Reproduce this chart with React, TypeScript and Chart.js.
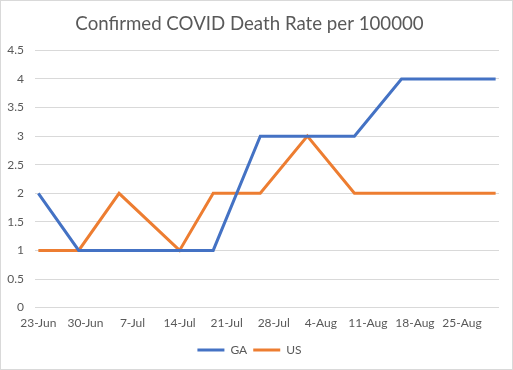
import React, { useEffect, useRef } from "react";
import { Chart, registerables } from "chart.js";

Chart.register(...registerables);

const dataDates = [
  "2020-06-23", "2020-06-29", "2020-07-05", "2020-07-14", "2020-07-19", "2020-07-26",
  "2020-08-02", "2020-08-09", "2020-08-16", "2020-08-23", "2020-08-30",
];
const gaValues = [2, 1, 1, 1, 1, 3, 3, 3, 4, 4, 4];
const usValues = [1, 1, 2, 1, 2, 2, 3, 2, 2, 2, 2];
const tickLabels = ["23-Jun", "30-Jun", "7-Jul", "14-Jul", "21-Jul", "28-Jul", "4-Aug", "11-Aug", "18-Aug", "25-Aug"];
const startDate = "2020-06-23";

const DAY = 86400000;
const dayOffset = (d: string) => Math.round((Date.parse(d) - Date.parse(startDate)) / DAY);

const FONT = "Lato, 'Open Sans', sans-serif";
const TEXT = "#595959";

export default function App() {
  const ref = useRef<HTMLCanvasElement | null>(null);
  useEffect(() => {
    document.body.style.margin = "0";
    const ctx = ref.current!;
    const xs = dataDates.map(dayOffset);
    const tickDays = tickLabels.map((_, i) => i * 7);
    const chart = new Chart(ctx, {
      type: "line",
      data: {
        datasets: [
          {
            label: "GA",
            data: xs.map((x, i) => ({ x, y: gaValues[i] })),
            borderColor: "#4472C4",
            backgroundColor: "#4472C4",
            borderWidth: 3,
            pointRadius: 0,
            tension: 0,
          },
          {
            label: "US",
            data: xs.map((x, i) => ({ x, y: usValues[i] })),
            borderColor: "#ED7D31",
            backgroundColor: "#ED7D31",
            borderWidth: 3,
            pointRadius: 0,
            tension: 0,
          },
        ],
      },
      options: {
        animation: false,
        responsive: false,
        devicePixelRatio: 1,
        layout: { padding: { left: 0, right: 14, top: 0, bottom: 4 } },
        plugins: {
          tooltip: { enabled: false },
          title: {
            display: true,
            text: "Confirmed COVID Death Rate per 100000",
            color: TEXT,
            font: { family: FONT, size: 18.67, weight: "normal" },
            padding: { top: 13, bottom: 15 },
          },
          legend: {
            position: "bottom",
            labels: {
              color: TEXT,
              font: { family: FONT, size: 12 },
              boxWidth: 27,
              boxHeight: 3,
              padding: 6,
              generateLabels: (c: any) =>
                c.data.datasets.map((ds: any, i: number) => ({
                  text: ds.label,
                  fillStyle: ds.borderColor,
                  strokeStyle: ds.borderColor,
                  lineWidth: 0,
                  fontColor: TEXT,
                  datasetIndex: i,
                  hidden: false,
                })),
            },
          },
        },
        scales: {
          x: {
            type: "linear",
            min: -0.5,
            max: 68.5,
            afterBuildTicks: (scale: any) => {
              scale.ticks = tickDays.map((v) => ({ value: v }));
            },
            grid: { display: false, drawTicks: false },
            border: { display: false },
            ticks: {
              color: TEXT,
              font: { family: FONT, size: 12 },
              padding: 8,
              maxRotation: 0,
              autoSkip: false,
              callback: (_v: any, i: number) => tickLabels[i],
            },
          },
          y: {
            min: 0,
            max: 4.5,
            afterFit: (scale: any) => {
              scale.width = 35;
            },
            grid: { color: "#d9d9d9", lineWidth: 1, drawTicks: false },
            border: { display: false },
            ticks: {
              stepSize: 0.5,
              color: TEXT,
              font: { family: FONT, size: 12 },
              padding: 11,
              callback: (v: any) => String(Number(Number(v).toFixed(1))),
            },
          },
        },
      },
    });
    return () => chart.destroy();
  }, []);
  return (
    <div
      style={{
        position: "absolute",
        left: 0,
        top: 0,
        width: 513,
        height: 370,
        background: "#fff",
      }}
    >
      <canvas ref={ref} width={513} height={370} style={{ display: "block" }} />
      <div
        style={{
          position: "absolute",
          left: 0,
          top: 0,
          width: 511,
          height: 368,
          border: "1px solid #d9d9d9",
          pointerEvents: "none",
        }}
      />
    </div>
  );
}
